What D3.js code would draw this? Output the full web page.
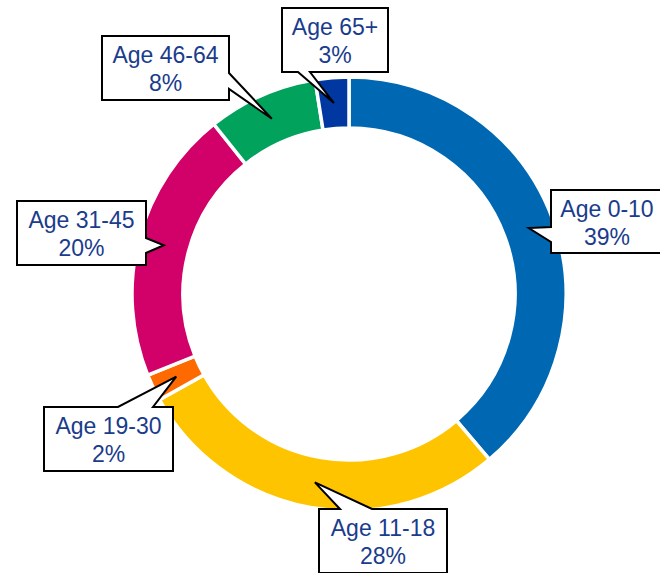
<!DOCTYPE html>
<html>
<head>
<meta charset="utf-8">
<script src="https://cdn.jsdelivr.net/npm/d3@7"></script>
<style>
  html, body { margin: 0; padding: 0; background: #fff; }
  svg { display: block; }
</style>
</head>
<body>
<svg id="chart" width="660" height="573"></svg>
<script>
// ---- data ----
const categories = ["Age 0-10", "Age 11-18", "Age 19-30", "Age 31-45", "Age 46-64", "Age 65+"];
const values = [38.8, 28.1, 2.0, 20.4, 8.2, 2.5];
const valueLabels = ["39%", "28%", "2%", "20%", "8%", "3%"];
const colors = ["#0068B2", "#FFC400", "#FF6A00", "#D20069", "#00A25C", "#0037A0"];

// ---- layout (callout boxes) ----
// side: which side of the box the pointer leaves from; b0/b1: pointer base offsets along that side
const callouts = [
  { x: 551, y: 190, w: 112, h: 63, side: "left",   b0: 37, b1: 52 },
  { x: 319, y: 509, w: 128, h: 64, side: "top",    b0: 21, b1: 53 },
  { x: 44,  y: 407, w: 129, h: 64, side: "top",    b0: 74, b1: 109 },
  { x: 17,  y: 201, w: 129, h: 64, side: "right",  b0: 37, b1: 52 },
  { x: 102, y: 36,  w: 127, h: 64, side: "right",  b0: 37, b1: 53 },
  { x: 282, y: 8,   w: 106, h: 64, side: "bottom", b0: 16, b1: 28 }
];

const svg = d3.select("#chart");
const cx = 349, cy = 294, outerR = 217, innerR = 166;

const pie = d3.pie().value(d => d).sort(null);
const arcs = pie(values);
const arc = d3.arc().innerRadius(innerR).outerRadius(outerR);

const g = svg.append("g").attr("transform", `translate(${cx},${cy})`);
g.selectAll("path.slice")
  .data(arcs)
  .join("path")
  .attr("class", "slice")
  .attr("d", arc)
  .attr("fill", (d, i) => colors[i])
  .attr("stroke", "#fff")
  .attr("stroke-width", 3.5)
  .attr("stroke-linejoin", "miter");

function calloutPath(c, tip) {
  const { x, y, w, h, side, b0, b1 } = c;
  const pts = [];
  pts.push([x, y]);
  if (side === "top") { pts.push([x + b0, y], tip, [x + b1, y]); }
  pts.push([x + w, y]);
  if (side === "right") { pts.push([x + w, y + b0], tip, [x + w, y + b1]); }
  pts.push([x + w, y + h]);
  if (side === "bottom") { pts.push([x + b1, y + h], tip, [x + b0, y + h]); }
  pts.push([x, y + h]);
  if (side === "left") { pts.push([x, y + b1], tip, [x, y + b0]); }
  return "M" + pts.map(p => p.join(",")).join("L") + "Z";
}

const labelG = svg.append("g");
arcs.forEach((a, i) => {
  const c = callouts[i];
  const cen = arc.centroid(a);
  const tip = [cx + cen[0], cy + cen[1]];
  labelG.append("path")
    .attr("d", calloutPath(c, tip))
    .attr("fill", "#fff")
    .attr("stroke", "#000")
    .attr("stroke-width", 2)
    .attr("stroke-linejoin", "miter");
  const t = labelG.append("text")
    .attr("text-anchor", "middle")
    .attr("font-family", "'Liberation Sans', Arial, sans-serif")
    .attr("font-size", 23)
    .attr("fill", "#1A3C8C");
  t.append("tspan").attr("x", c.x + c.w / 2).attr("y", c.y + 27).text(categories[i]);
  t.append("tspan").attr("x", c.x + c.w / 2).attr("y", c.y + 55).text(valueLabels[i]);
});
</script>
</body>
</html>
